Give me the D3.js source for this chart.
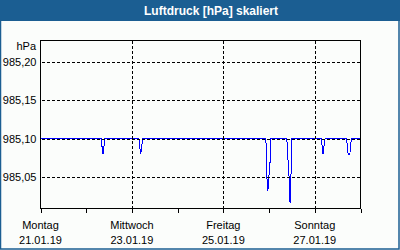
<!DOCTYPE html>
<html><head><meta charset="utf-8">
<script src="https://cdn.jsdelivr.net/npm/d3@7"></script>
<style>html,body{margin:0;padding:0;background:#fbfdfb;}svg{display:block;}</style>
</head><body>
<svg id="c" width="400" height="250"></svg>
<script>
const title = "Luftdruck [hPa] skaliert";
const unitLabel = "hPa";
// hours since Monday 21.01.19 00:00
const hours = [0, 31.9, 32.3, 32.8, 33.3, 33.7, 51.7, 52.1, 52.6, 53.2, 53.5,
  118.3, 118.6, 119.0, 119.4, 119.8, 120.4, 120.8,
  129.3, 129.6, 130.2, 130.6, 131.0, 131.6, 131.9,
  147.5, 147.9, 148.3, 148.8, 149.4,
  160.7, 161.1, 161.5, 162.4, 162.8, 163.2, 168];
const pressure = [985.10, 985.10, 985.09, 985.08, 985.09, 985.10, 985.10, 985.09, 985.08, 985.09, 985.10,
  985.10, 985.083, 985.04, 985.033, 985.05, 985.06, 985.10,
  985.10, 985.09, 985.06, 985.048, 985.017, 985.06, 985.10,
  985.10, 985.09, 985.08, 985.09, 985.10,
  985.10, 985.09, 985.08, 985.08, 985.09, 985.10, 985.10];
const yTicks = [985.05, 985.10, 985.15, 985.20];
const yTickLabels = ["985,05", "985,10", "985,15", "985,20"];
const dayTicks = [0, 24, 48, 72, 96, 120, 144, 168];
const labelHours = [0, 48, 96, 144];
const weekdayLabels = ["Montag", "Mittwoch", "Freitag", "Sonntag"];
const dateLabels = ["21.01.19", "23.01.19", "25.01.19", "27.01.19"];
const gridHours = [48, 96, 144];

const svg = d3.select("#c");
const font = "'Liberation Sans', Arial, sans-serif";
const L = 40.5, R = 360.5, T = 40.5, B = 208.5;
const x = d3.scaleLinear().domain([0, 168]).range([L, R]);
const y = d3.scaleLinear().domain([985.0096, 985.2279]).range([B, T]);

// frame
svg.append("rect").attr("x", 0.5).attr("y", 0.5).attr("width", 398.5).attr("height", 248.5)
  .attr("fill", "#fbfdfb").attr("stroke", "#1b5e92").attr("stroke-width", 1.5);
svg.append("rect").attr("x", 0).attr("y", 0).attr("width", 400).attr("height", 21).attr("fill", "#1b5e92");
svg.append("text").attr("x", 211).attr("y", 14.5).attr("text-anchor", "middle")
  .attr("font-family", font).attr("font-weight", "bold").attr("font-size", 12).attr("fill", "#fff").text(title);

// data line
const line = d3.line().x((d, i) => x(hours[i])).y(d => y(d));
svg.append("path").datum(pressure).attr("d", line).attr("fill", "none")
  .attr("stroke", "#0000ff").attr("stroke-width", 1).attr("shape-rendering", "crispEdges");

// gridlines on top
const g = svg.append("g").attr("stroke", "#000").attr("stroke-dasharray", "3,2").attr("shape-rendering", "crispEdges");
g.selectAll("line.h").data(yTicks).join("line").attr("x1", L + 1).attr("x2", R)
  .attr("y1", d => Math.round(y(d)) + 0.5).attr("y2", d => Math.round(y(d)) + 0.5);
g.selectAll("line.v").data(gridHours).join("line").attr("y1", T).attr("y2", B)
  .attr("x1", d => Math.round(x(d)) + 0.5).attr("x2", d => Math.round(x(d)) + 0.5);

// axes
const xAxis = d3.axisBottom(x).tickValues(dayTicks).tickSize(4).tickFormat("");
const ax = svg.append("g").attr("transform", `translate(0,${B})`).call(xAxis);
ax.select(".domain").remove();
ax.selectAll("line").attr("stroke", "#000").attr("shape-rendering", "crispEdges");
svg.append("rect").attr("x", L).attr("y", T).attr("width", R - L).attr("height", B - T)
  .attr("fill", "none").attr("stroke", "#000").attr("shape-rendering", "crispEdges");

const yAxis = d3.axisLeft(y).tickValues(yTicks).tickSize(0).tickPadding(4)
  .tickFormat((d, i) => yTickLabels[i]);
const ay = svg.append("g").attr("transform", `translate(${L},0)`).call(yAxis);
ay.select(".domain").remove();
ay.selectAll("text").attr("font-family", font).attr("font-size", 11).attr("fill", "#000");

svg.append("text").attr("x", 36).attr("y", 49.5).attr("text-anchor", "end")
  .attr("font-family", font).attr("font-size", 11).text(unitLabel);

const lab = svg.append("g").attr("font-family", font).attr("font-size", 11).attr("text-anchor", "middle");
lab.selectAll("text.w").data(labelHours).join("text").attr("x", d => x(d)).attr("y", 228.5)
  .text((d, i) => weekdayLabels[i]);
lab.selectAll("text.d").data(labelHours).join("text").attr("x", d => x(d)).attr("y", 244)
  .text((d, i) => dateLabels[i]);
</script>
</body></html>
